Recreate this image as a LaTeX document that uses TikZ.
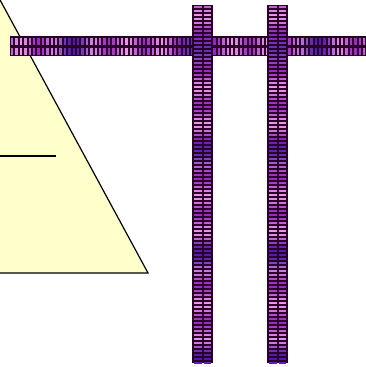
\documentclass[tikz,border=0pt]{standalone}
\definecolor{triyellow}{RGB}{255,255,204}
\definecolor{bardark}{RGB}{40,0,40}
\definecolor{barpink}{RGB}{235,150,230}
\definecolor{barpurple}{RGB}{160,40,200}
\definecolor{barblue}{RGB}{50,20,170}
\tikzset{
  tri/.style={fill=triyellow, draw=black, line width=1.2pt, line join=miter},
  inner/.style={draw=black, line width=1.1pt},
  barbg/.style={fill=bardark}
}
\begin{document}
\begin{tikzpicture}[x=1pt,y=-1pt]
\useasboundingbox (0,0) rectangle (366,367);
\begin{scope}
\clip (0,0) rectangle (366,367);
\draw[tri] (-1,-2) -- (148,273) -- (-200,273) -- cycle;
\draw[inner] (-2,156) -- (56,156);
% horizontal bar
\fill[barbg] (10,36) rectangle (366,56);
\foreach \i in {0,...,81}{
  \pgfmathsetmacro{\xx}{11+\i*4.4}
  \pgfmathtruncatemacro{\a}{50+50*sin(\i*45)}
  \pgfmathtruncatemacro{\b}{100-75*max(0,-cos(\i*13))^3}
  \fill[fill=barpink!\a!barpurple!\b!barblue] (\xx,38) rectangle ++(2.4,7);
  \fill[fill=barpink!\a!barpurple!\b!barblue] (\xx,47.5) rectangle ++(2.4,7);
}
% vertical bars
\foreach \bx in {192,267}{
  \fill[barbg] (\bx,5) rectangle ++(21,358);
  \foreach \j in {0,...,89}{
    \pgfmathsetmacro{\yy}{6+\j*4}
    \pgfmathtruncatemacro{\a}{50+50*sin(\j*40)}
    \pgfmathtruncatemacro{\b}{100-75*max(0,-cos(\j*14+30))^3}
    \fill[fill=barpink!\a!barpurple!\b!barblue] (\bx+2,\yy) rectangle ++(7.5,2.3);
    \fill[fill=barpink!\a!barpurple!\b!barblue] (\bx+11.5,\yy) rectangle ++(7.5,2.3);
  }
}
\end{scope}
\end{tikzpicture}
\end{document}
